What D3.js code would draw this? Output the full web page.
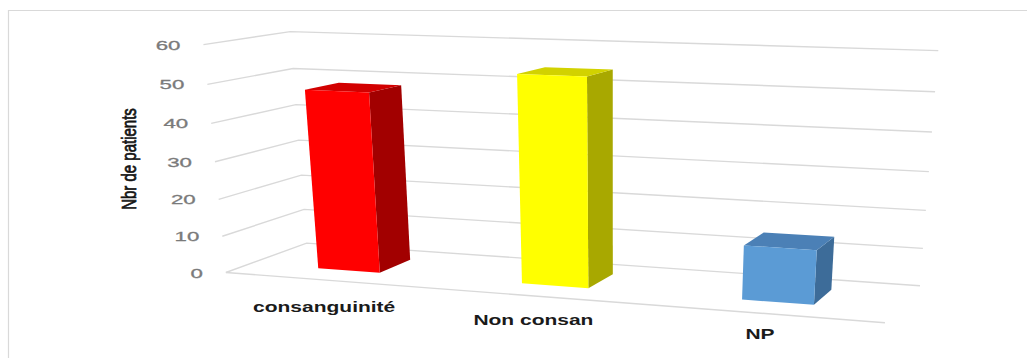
<!DOCTYPE html>
<html><head><meta charset="utf-8">
<script src="https://cdn.jsdelivr.net/npm/d3@7"></script>
<style>body{margin:0;background:#fff} svg{display:block}</style>
</head><body>
<svg id="chart" width="1027" height="358"></svg>
<script>
// ---- data ----
const categories = ["consanguinité", "Non consan", "NP"];
const patients = [48, 54, 14];
const yTicks = [0, 10, 20, 30, 40, 50, 60];
const yTitle = "Nbr de patients";

// face shading per bar: front, right side, top
const palette = [
  {front: "#ff0000", side: "#a20000", top: "#d20000"},
  {front: "#ffff00", side: "#a8a800", top: "#d2d200"},
  {front: "#5b9bd5", side: "#3d6c99", top: "#4b80b6"}
];

// ---- 3D frame: world x spans the category bands [0,3], y is the value, z is depth (0 = back wall, 1 = front edge)
const yWorld = d3.scaleLinear().domain([0, 60]).range([0, 1]);
const xWorld = d3.scaleBand().domain(categories).range([0, 3]).paddingInner(0.69).paddingOuter(0.345);
const barDepth = [0.28, 0.7];

// screen placement of the chart box corners, used to calibrate the perspective camera
const boxCorners = [
  {w: [0, 0, 0],  s: [308.3, 243.3]},
  {w: [0, 50, 0], s: [291.7, 68.3]},
  {w: [0, 60, 0], s: [290, 31.7]},
  {w: [3, 0, 0],  s: [920, 285.7]},
  {w: [3, 50, 0], s: [933.3, 91.7]},
  {w: [3, 60, 0], s: [940, 50.7]},
  {w: [0, 0, 1],  s: [225, 272.7]},
  {w: [0, 10, 1], s: [221.7, 236]},
  {w: [0, 50, 1], s: [207.3, 84]},
  {w: [0, 60, 1], s: [205, 45]},
  {w: [3, 0, 1],  s: [885, 322.7]}
];

// least-squares fit of a 3x4 projective camera (DLT) from the corner correspondences
const U0 = 600, V0 = 180, S = 300;
function fitCamera(pts) {
  const n = 11;
  const M = Array.from({length: n}, () => new Array(n + 1).fill(0));
  const add = (r, b) => { for (let i = 0; i < n; i++) { for (let j = 0; j < n; j++) M[i][j] += r[i] * r[j]; M[i][n] += r[i] * b; } };
  pts.forEach(p => {
    const X = p.w[0], Y = yWorld(p.w[1]), Z = p.w[2];
    const u = (p.s[0] - U0) / S, v = (p.s[1] - V0) / S;
    add([X, Y, Z, 1, 0, 0, 0, 0, -u * X, -u * Y, -u * Z], u);
    add([0, 0, 0, 0, X, Y, Z, 1, -v * X, -v * Y, -v * Z], v);
  });
  for (let c = 0; c < n; c++) {
    let piv = c;
    for (let r = c + 1; r < n; r++) if (Math.abs(M[r][c]) > Math.abs(M[piv][c])) piv = r;
    [M[c], M[piv]] = [M[piv], M[c]];
    for (let r = 0; r < n; r++) {
      if (r === c) continue;
      const f = M[r][c] / M[c][c];
      for (let j = c; j <= n; j++) M[r][j] -= f * M[c][j];
    }
  }
  const m = M.map((row, i) => row[n] / row[i]);
  return [[m[0], m[1], m[2], m[3]], [m[4], m[5], m[6], m[7]], [m[8], m[9], m[10], 1]];
}
const P = fitCamera(boxCorners);

function project(x, value, z) {
  const y = yWorld(value);
  const a = P[0][0] * x + P[0][1] * y + P[0][2] * z + P[0][3];
  const b = P[1][0] * x + P[1][1] * y + P[1][2] * z + P[1][3];
  const w = P[2][0] * x + P[2][1] * y + P[2][2] * z + P[2][3];
  return [U0 + S * a / w, V0 + S * b / w];
}

const svg = d3.select("#chart");
const line = d3.line();

// outer frame (top and left edges)
svg.append("path").attr("d", "M8.5,360V10.5H1027")
  .attr("fill", "none").attr("stroke", "#d9d9d9").attr("stroke-width", 1.2);

// gridlines: left wall then back wall, plus the front floor edge
const grid = svg.append("g").attr("fill", "none").attr("stroke", "#d9d9d9").attr("stroke-width", 1.4);
yTicks.forEach(t => {
  grid.append("path").attr("d", line([project(0, t, 1), project(0, t, 0), project(3, t, 0)]));
});
grid.append("path").attr("d", line([project(0, 0, 1), project(3, 0, 1)]));

// tick labels
svg.append("g").selectAll("text").data(yTicks).join("text")
  .attr("transform", d => { const p = project(0, d, 1); return `translate(${p[0] - 23},${p[1] + 5}) scale(1.65,1)`; })
  .attr("text-anchor", "end").attr("font-family", "Liberation Sans, Arial, sans-serif")
  .attr("font-size", 13.5).attr("fill", "#7a7a7a").attr("stroke", "#7a7a7a").attr("stroke-width", 0.3)
  .text(d => d);

// axis title
svg.append("text").attr("transform", "translate(136,159) rotate(-90) scale(1,1.3)")
  .attr("text-anchor", "middle").attr("font-family", "Liberation Sans, Arial, sans-serif")
  .attr("font-size", 15).attr("fill", "#141414").attr("stroke", "#141414").attr("stroke-width", 0.55)
  .text(yTitle);

// bars: right side, top, then front face
const [z0, z1] = barDepth;
const bars = svg.append("g");
categories.forEach((c, i) => {
  const x0 = xWorld(c), x1 = x0 + xWorld.bandwidth(), v = patients[i], col = palette[i];
  const g = bars.append("g");
  g.append("path").attr("fill", col.side)
    .attr("d", line([project(x1, 0, z1), project(x1, 0, z0), project(x1, v, z0), project(x1, v, z1)]) + "Z");
  g.append("path").attr("fill", col.top)
    .attr("d", line([project(x0, v, z1), project(x1, v, z1), project(x1, v, z0), project(x0, v, z0)]) + "Z");
  g.append("path").attr("fill", col.front)
    .attr("d", line([project(x0, 0, z1), project(x1, 0, z1), project(x1, v, z1), project(x0, v, z1)]) + "Z");
});

// category labels under the front floor edge
svg.append("g").selectAll("text").data(categories).join("text")
  .attr("transform", (d, i) => {
    const p = project(i + 0.5, 0, 1);
    const dx = -1 - 0.006 * (p[0] - 325), dy = 31.9 - 0.0155 * (p[0] - 325);
    return `translate(${p[0] + dx},${p[1] + dy}) scale(1.5,1)`;
  })
  .attr("text-anchor", "middle").attr("font-family", "Liberation Sans, Arial, sans-serif")
  .attr("font-size", 14).attr("font-weight", "bold").attr("fill", "#1a1a1a").text(d => d);
</script>
</body></html>
